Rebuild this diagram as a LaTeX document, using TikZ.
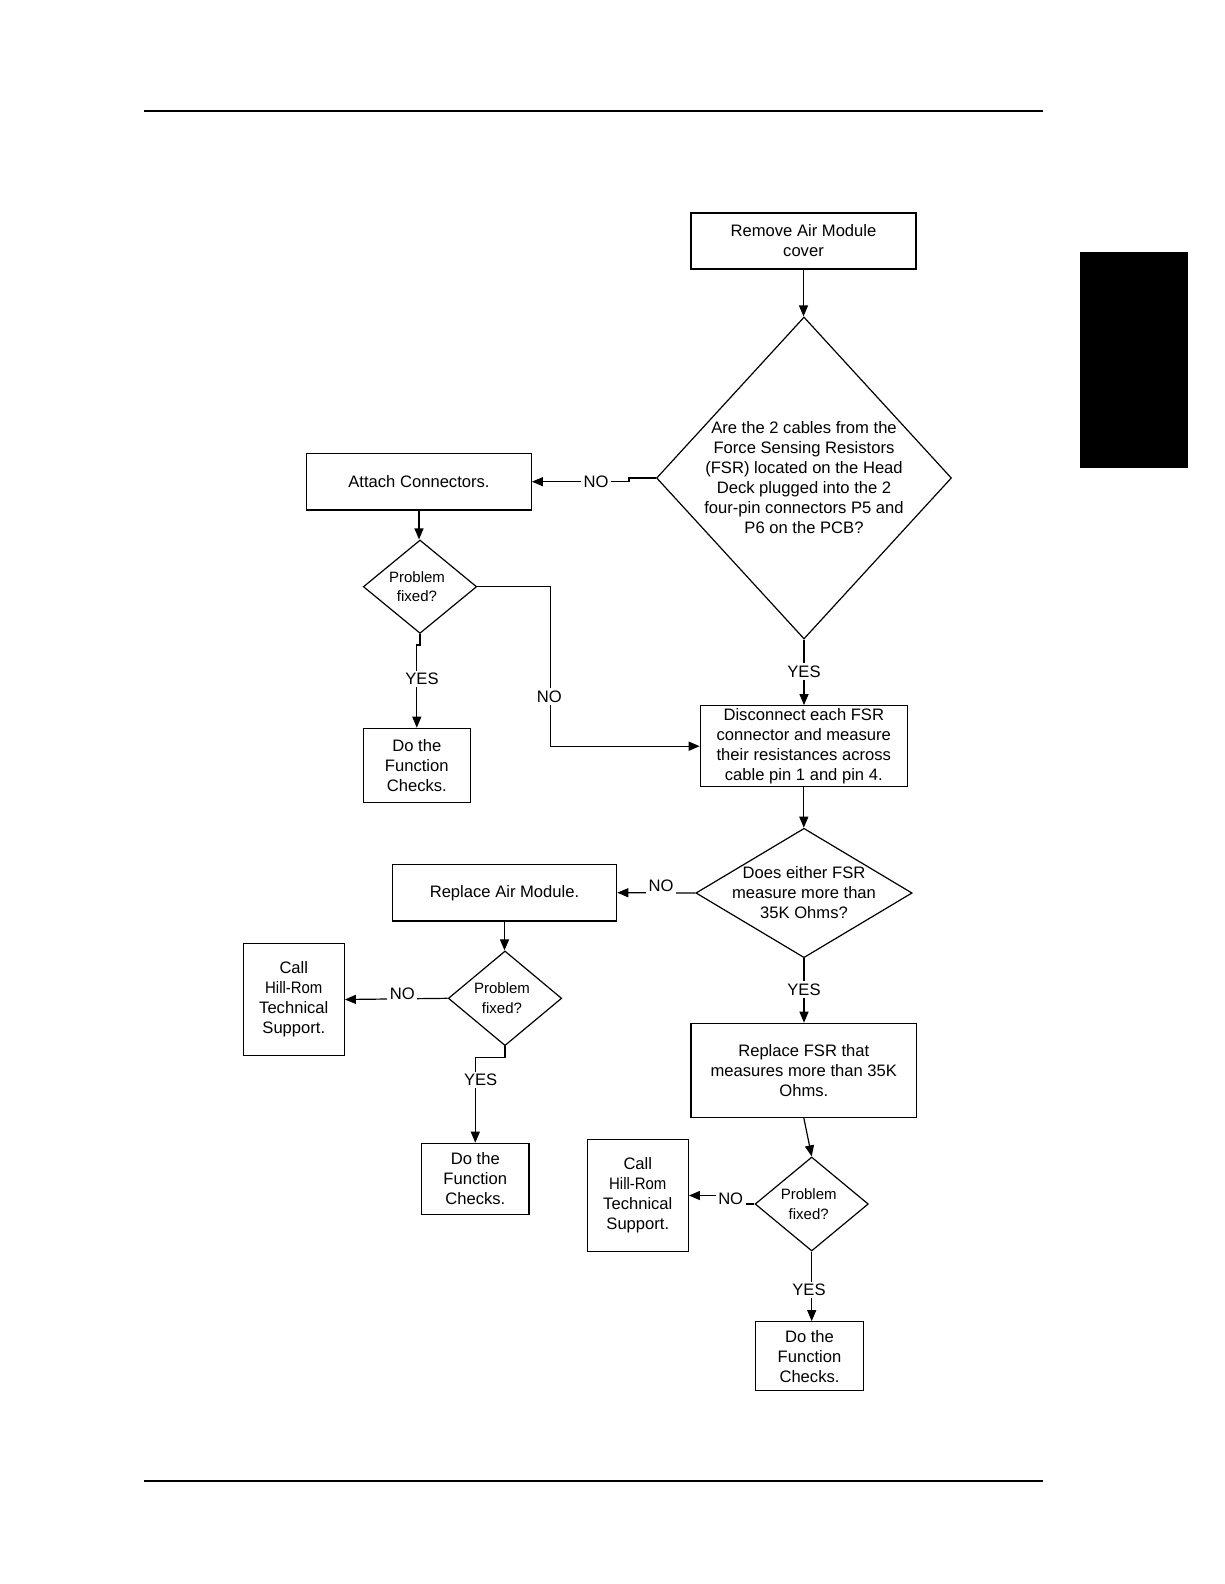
\documentclass[tikz,border=0pt]{standalone}
\usepackage{fontspec}
\setmainfont{Liberation Sans}
\usepackage{graphicx}
\usetikzlibrary{shapes.geometric,arrows.meta}
\newcommand{\hillrom}{\scalebox{0.9}[1]{Hill-Rom}}
\begin{document}
\begin{tikzpicture}[x=1pt,y=-1pt,
  base/.style={draw=black, line width=1.2pt, inner sep=0pt, align=center, font=\fontsize{16.6}{20}\selectfont},
  box/.style={base, rectangle},
  dia/.style={base, diamond},
  txt/.style={align=center, inner sep=0pt, font=\fontsize{16.6}{20}\selectfont},
  stxt/.style={align=center, inner sep=0pt, font=\fontsize{15}{19.5}\selectfont},
  lab/.style={fill=white, inner sep=2.5pt, font=\fontsize{16.6}{20}\selectfont},
  arr/.style={line width=1.2pt, -{Triangle[length=11pt,width=9pt]}},
  ln/.style={line width=1.2pt}]
\useasboundingbox (0,0) rectangle (1224,1584);
% page furniture
\draw[ln] (144,111) -- (1043,111);
\draw[ln] (144,1481) -- (1043,1481);
\fill[black] (1080,252) rectangle (1188,468);

% nodes
\node[box, minimum width=225pt, minimum height=56pt] (b1) at (803.5,241) {Remove Air Module\\cover};
\node[dia, minimum width=295pt, minimum height=322pt,
  label={[txt]center:{Are the 2 cables from the\\Force Sensing Resistors\\(FSR) located on the Head\\Deck plugged into the 2\\four-pin connectors P5 and\\P6 on the PCB?}}] (d1) at (804,478) {};
\node[box, minimum width=224.6pt, minimum height=56.7pt] (ac) at (419,481.7) {Attach Connectors.};
\node[dia, minimum width=113.4pt, minimum height=93.4pt,
  label={[stxt,xshift=-3pt]center:{Problem\\fixed?}}] (p1) at (420,586.7) {};
\node[box, minimum width=107pt, minimum height=74pt] (f1) at (416.8,765.3) {Do the\\Function\\Checks.};
\node[box, minimum width=207pt, minimum height=81pt] (ds) at (803.8,746.2) {Disconnect each FSR\\connector and measure\\their resistances across\\cable pin 1 and pin 4.};
\node[dia, minimum width=216.3pt, minimum height=129.4pt,
  label={[txt]center:{Does either FSR\\measure more than\\35K Ohms?}}] (d2) at (804,893) {};
\node[box, minimum width=224.4pt, minimum height=56.7pt] (ram) at (504.5,892.7) {Replace Air Module.};
\node[dia, minimum width=113.4pt, minimum height=94.7pt,
  label={[stxt,xshift=-3pt]center:{Problem\\fixed?}}] (p2) at (505,998.3) {};
\node[box, minimum width=101pt, minimum height=112.4pt] (c1) at (293.8,999.5) {Call\\\hillrom\\Technical\\Support.};
\node[box, minimum width=107.3pt, minimum height=71pt] (f2) at (475.3,1178.8) {Do the\\Function\\Checks.};
\node[box, minimum width=225.7pt, minimum height=94pt] (rf) at (803.8,1070.3) {Replace FSR that\\measures more than 35K\\Ohms.};
\node[dia, minimum width=113.3pt, minimum height=94pt,
  label={[stxt,xshift=-3pt]center:{Problem\\fixed?}}] (p3) at (811.7,1204) {};
\node[box, minimum width=101pt, minimum height=112.4pt] (c2) at (637.8,1195.5) {Call\\\hillrom\\Technical\\Support.};
\node[box, minimum width=107.6pt, minimum height=69pt] (f3) at (809.5,1356.2) {Do the\\Function\\Checks.};

% connectors
\draw[arr] (b1.south) -- (b1.south |- d1.north);
\draw[arr] (d1.west) -- ++(-27,0) |- (ac.east);
\node[lab] (n1) at (596,481.7) {NO};
\draw[arr] (ac.south) -- (ac.south |- p1.north);
\draw[arr] (p1.south) -- ++(0,11) -| (f1.north);
\node[lab] (y1) at (422,679) {YES};
\draw[arr] (p1.east) -- ++(73.3,0) |- (ds.west);
\node[lab] (n2) at (549.3,696.7) {NO};
\draw[arr] (d1.south) -- (d1.south |- ds.north);
\node[lab] (y2) at (804,671.7) {YES};
\draw[arr] (ds.south) -- (ds.south |- d2.north);
\draw[arr] (d2.west) -- (ram.east);
\node[lab] (n3) at (661,886) {NO};
\draw[arr] (ram.south) -- (ram.south |- p2.north);
\draw[arr] (p2.west) -- (c1.east);
\node[lab] (n4) at (402.3,993.3) {NO};
\draw[arr] (p2.south) -- ++(0,11) -| (f2.north);
\node[lab] (y3) at (480.7,1080) {YES};
\draw[arr] (d2.south) -- (d2.south |- rf.north);
\node[lab] (y4) at (804,989.3) {YES};
\draw[arr] (rf.south) -- (p3.north);
\draw[arr] (p3.west) -- ++(-20,0) |- (c2.east);
\node[lab] (n5) at (730.7,1199) {NO};
\draw[arr] (p3.south) -- (p3.south |- f3.north);
\node[lab] (y5) at (809,1290) {YES};
\end{tikzpicture}
\end{document}
